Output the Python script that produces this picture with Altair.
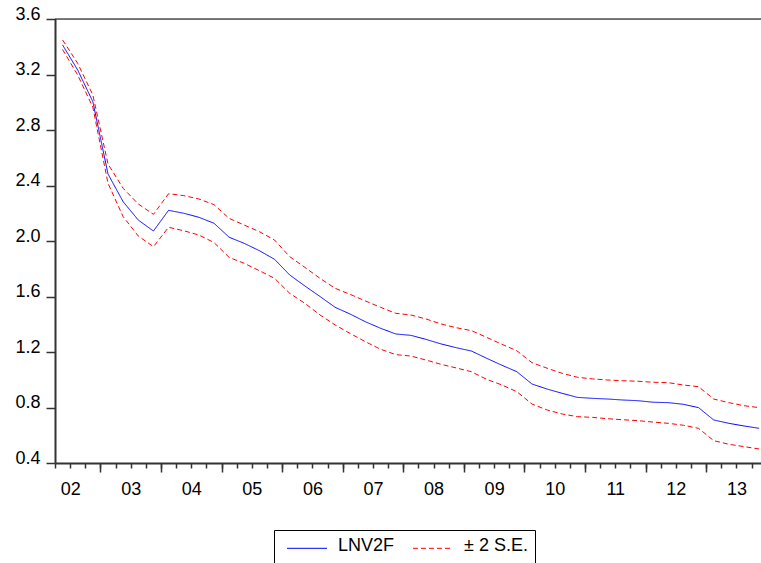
import altair as alt
import pandas as pd

periods = ["2002Q2", "2002Q3", "2002Q4"] + [f"{y}Q{q}" for y in range(2003, 2014) for q in range(1, 5)]

lnv2f = [3.413, 3.232, 3.004, 2.483, 2.283, 2.151, 2.072, 2.221, 2.200, 2.171,
         2.128, 2.027, 1.983, 1.930, 1.868, 1.755, 1.676, 1.600, 1.522, 1.473,
         1.418, 1.371, 1.330, 1.320, 1.291, 1.258, 1.231, 1.207, 1.155, 1.105,
         1.058, 0.969, 0.933, 0.902, 0.873, 0.866, 0.861, 0.854, 0.849, 0.838,
         0.835, 0.823, 0.799, 0.710, 0.686, 0.667, 0.650]
upper = [3.449, 3.280, 3.052, 2.555, 2.380, 2.267, 2.192, 2.341, 2.327, 2.303,
         2.262, 2.163, 2.115, 2.067, 2.007, 1.887, 1.810, 1.731, 1.659, 1.615,
         1.568, 1.522, 1.479, 1.467, 1.438, 1.402, 1.375, 1.354, 1.306, 1.256,
         1.209, 1.123, 1.083, 1.046, 1.018, 1.006, 0.998, 0.993, 0.989, 0.982,
         0.979, 0.962, 0.950, 0.861, 0.835, 0.813, 0.799]
lower = [3.380, 3.196, 2.964, 2.416, 2.175, 2.036, 1.959, 2.099, 2.074, 2.043,
         1.989, 1.882, 1.839, 1.786, 1.731, 1.623, 1.551, 1.467, 1.395, 1.333,
         1.274, 1.220, 1.181, 1.171, 1.142, 1.111, 1.085, 1.058, 1.003, 0.963,
         0.914, 0.825, 0.782, 0.753, 0.734, 0.729, 0.719, 0.712, 0.705, 0.695,
         0.686, 0.672, 0.650, 0.561, 0.535, 0.518, 0.501]

series_names = ["LNV2F", "± 2 S.E."]
y_ticks = [0.4, 0.8, 1.2, 1.6, 2.0, 2.4, 2.8, 3.2, 3.6]
FONT = "Liberation Sans"


def period_pos(p):
    y, q = p.split("Q")
    return int(y) + (int(q) - 0.5) / 4


rows = []
for name, vals, ser in [("mid", lnv2f, series_names[0]), ("up", upper, series_names[1]), ("lo", lower, series_names[1])]:
    for p, v in zip(periods, vals):
        rows.append({"t": period_pos(p), "value": v, "series": ser, "band": name})
df = pd.DataFrame(rows)

X0, X1 = 2002.25, 2002.25 + 706 / 60.57
xscale = alt.Scale(domain=[X0, X1], nice=False, zero=False)
yscale = alt.Scale(domain=[0.4, 3.6], nice=False, zero=False)

quarter_bounds = [2002.25 + 0.25 * k for k in range(0, 47)]
year_bounds = list(range(2003, 2014))

leg = alt.Legend(
    orient="none", legendX=219, legendY=511, direction="horizontal",
    title="\u00a0" * 52, titleOrient="bottom", titleFont=FONT, titleFontSize=18,
    titlePadding=4, titleLimit=1000,
    labelFont=FONT, labelFontSize=18, labelColor="black",
    symbolType="M-4,0.46H4", symbolSize=100, symbolStrokeWidth=1,
    symbolOffset=17, labelOffset=22, columnPadding=12,
    strokeColor="black", padding=7,
)

lines = alt.Chart(df).mark_line(strokeWidth=1).encode(
    x=alt.X("t:Q", scale=xscale, axis=alt.Axis(
        orient="bottom",
        values=quarter_bounds, tickSize=5, tickWidth=1.5, tickColor="#333",
        domainColor="#333", domainWidth=2, labelFont=FONT, labelFontSize=18,
        labelColor="black", labelPadding=12, labelFlush=False, labelBound=False,
        labelOverlap=False, grid=False, title=None,
        labelExpr="datum.value % 1 == 0.5 ? slice('0' + floor(datum.value % 100), -2) : ''",
    )),
    y=alt.Y("value:Q", scale=yscale, axis=alt.Axis(
        values=y_ticks, format=".1f", tickSize=9, tickWidth=1.5, tickColor="#333",
        domainColor="#333", domainWidth=2, labelFont=FONT, labelFontSize=18,
        labelColor="black", labelPadding=6, labelBaseline="alphabetic",
        labelOverlap=False, labelFlush=False, grid=False, title=None,
    )),
    color=alt.Color("series:N", scale=alt.Scale(domain=series_names, range=["#0000FF", "#FF0000"]), legend=leg),
    strokeDash=alt.StrokeDash("series:N", scale=alt.Scale(domain=series_names, range=[[1, 0], [5, 3]]), legend=leg),
    detail="band:N",
)

major = alt.Chart(pd.DataFrame({"t": year_bounds})).mark_tick(opacity=0).encode(
    x=alt.X("t:Q", scale=xscale, axis=alt.Axis(
        orient="bottom",
        values=year_bounds, tickSize=9, tickWidth=1.5, tickColor="#333",
        domain=False, labels=False, grid=False, title=None,
    )),
)

top_border = alt.Chart(pd.DataFrame({"v": [3.6]})).mark_rule(color="black", strokeWidth=1).encode(
    y=alt.Y("v:Q", scale=yscale),
)

chart = alt.layer(lines, major, top_border).resolve_scale(x="independent").properties(
    width=706, height=444,
    autosize=alt.AutoSizeParams(type="none"),
    padding={"left": 55, "top": 19, "right": 0, "bottom": 100},
).configure_view(stroke=None).configure(background="white")

chart.save("out.html", embed_options={"renderer": "svg", "actions": False})
